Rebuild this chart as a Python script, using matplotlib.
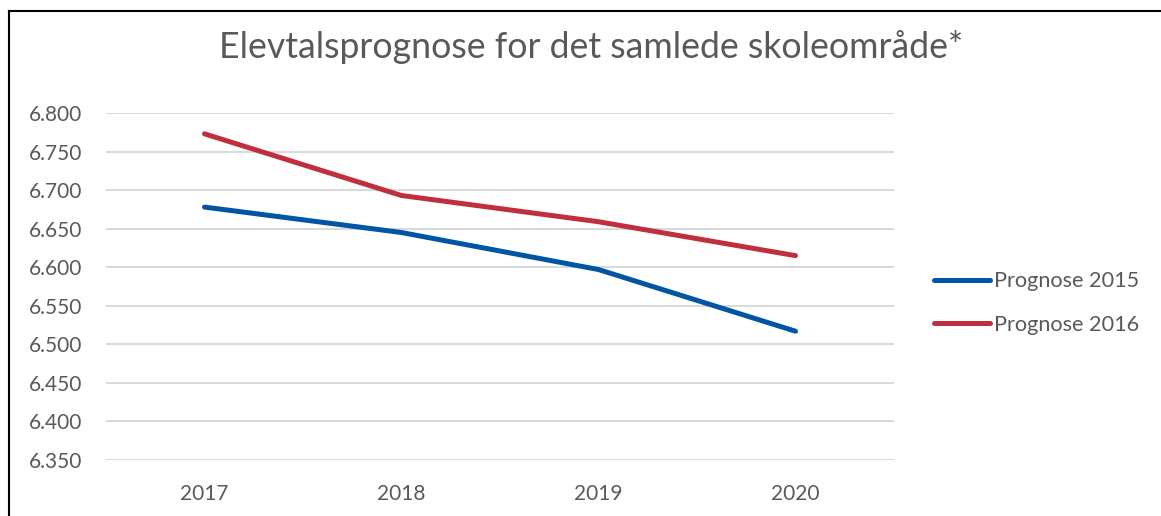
"""Elevtalsprognose - linjediagram"""

import matplotlib

matplotlib.use("Agg")
import matplotlib.pyplot as plt
from matplotlib.lines import Line2D
from matplotlib.ticker import FuncFormatter

# data
years = ["2017", "2018", "2019", "2020"]
prognose_2015 = [6678, 6645, 6597, 6517]
prognose_2016 = [6773, 6693, 6659, 6615]
series_names = ["Prognose 2015", "Prognose 2016"]
y_ticks = [6350, 6400, 6450, 6500, 6550, 6600, 6650, 6700, 6750, 6800]

TEXT = "#595959"
BLUE = "#0055A5"
RED = "#C0303C"

plt.rcParams["font.family"] = ["Lato", "DejaVu Sans"]

fig = plt.figure(figsize=(11.61, 5.16), dpi=100)
ax = fig.add_axes([106 / 1161, 1 - 460 / 516, (894 - 106) / 1161, (460 - 113) / 516])

x = range(len(years))
ax.plot(x, prognose_2015, color=BLUE, lw=3.6, solid_capstyle="round",
        solid_joinstyle="round", label=series_names[0])
ax.plot(x, prognose_2016, color=RED, lw=3.6, solid_capstyle="round",
        solid_joinstyle="round", label=series_names[1])

ax.set_xlim(-0.5, len(years) - 0.5)
ax.set_ylim(y_ticks[0], y_ticks[-1])
ax.set_yticks(y_ticks)
ax.yaxis.set_major_formatter(FuncFormatter(lambda v, _: f"{v:,.0f}".replace(",", ".")))
ax.set_xticks(list(x))
ax.set_xticklabels(years)
ax.tick_params(axis="both", length=0, labelsize=15, colors=TEXT)
ax.tick_params(axis="y", pad=17)
ax.tick_params(axis="x", pad=17)
ax.grid(axis="y", color="#D9D9D9", lw=1.4)
ax.set_axisbelow(True)
for s in ax.spines.values():
    s.set_visible(False)

fig.text(0.5095, 1 - 47 / 516, "Elevtalsprognose for det samlede skoleområde*",
         ha="center", va="center", fontsize=25.7, color=TEXT)

ax.legend(loc="center left", bbox_to_anchor=(934 / 1161, 1 - 303 / 516),
          bbox_transform=fig.transFigure, frameon=False, fontsize=15.6,
          labelcolor=TEXT, handlelength=2.6, handletextpad=0.15,
          labelspacing=1.1, borderaxespad=0, borderpad=0)

# ramme (venstre og top)
fig.add_artist(Line2D([9 / 1161, 9 / 1161], [0, 1 - 11 / 516], color="black", lw=1.5))
fig.add_artist(Line2D([9 / 1161, 1], [1 - 11 / 516, 1 - 11 / 516], color="black", lw=1.5))

fig.savefig("out.png", dpi=100)
